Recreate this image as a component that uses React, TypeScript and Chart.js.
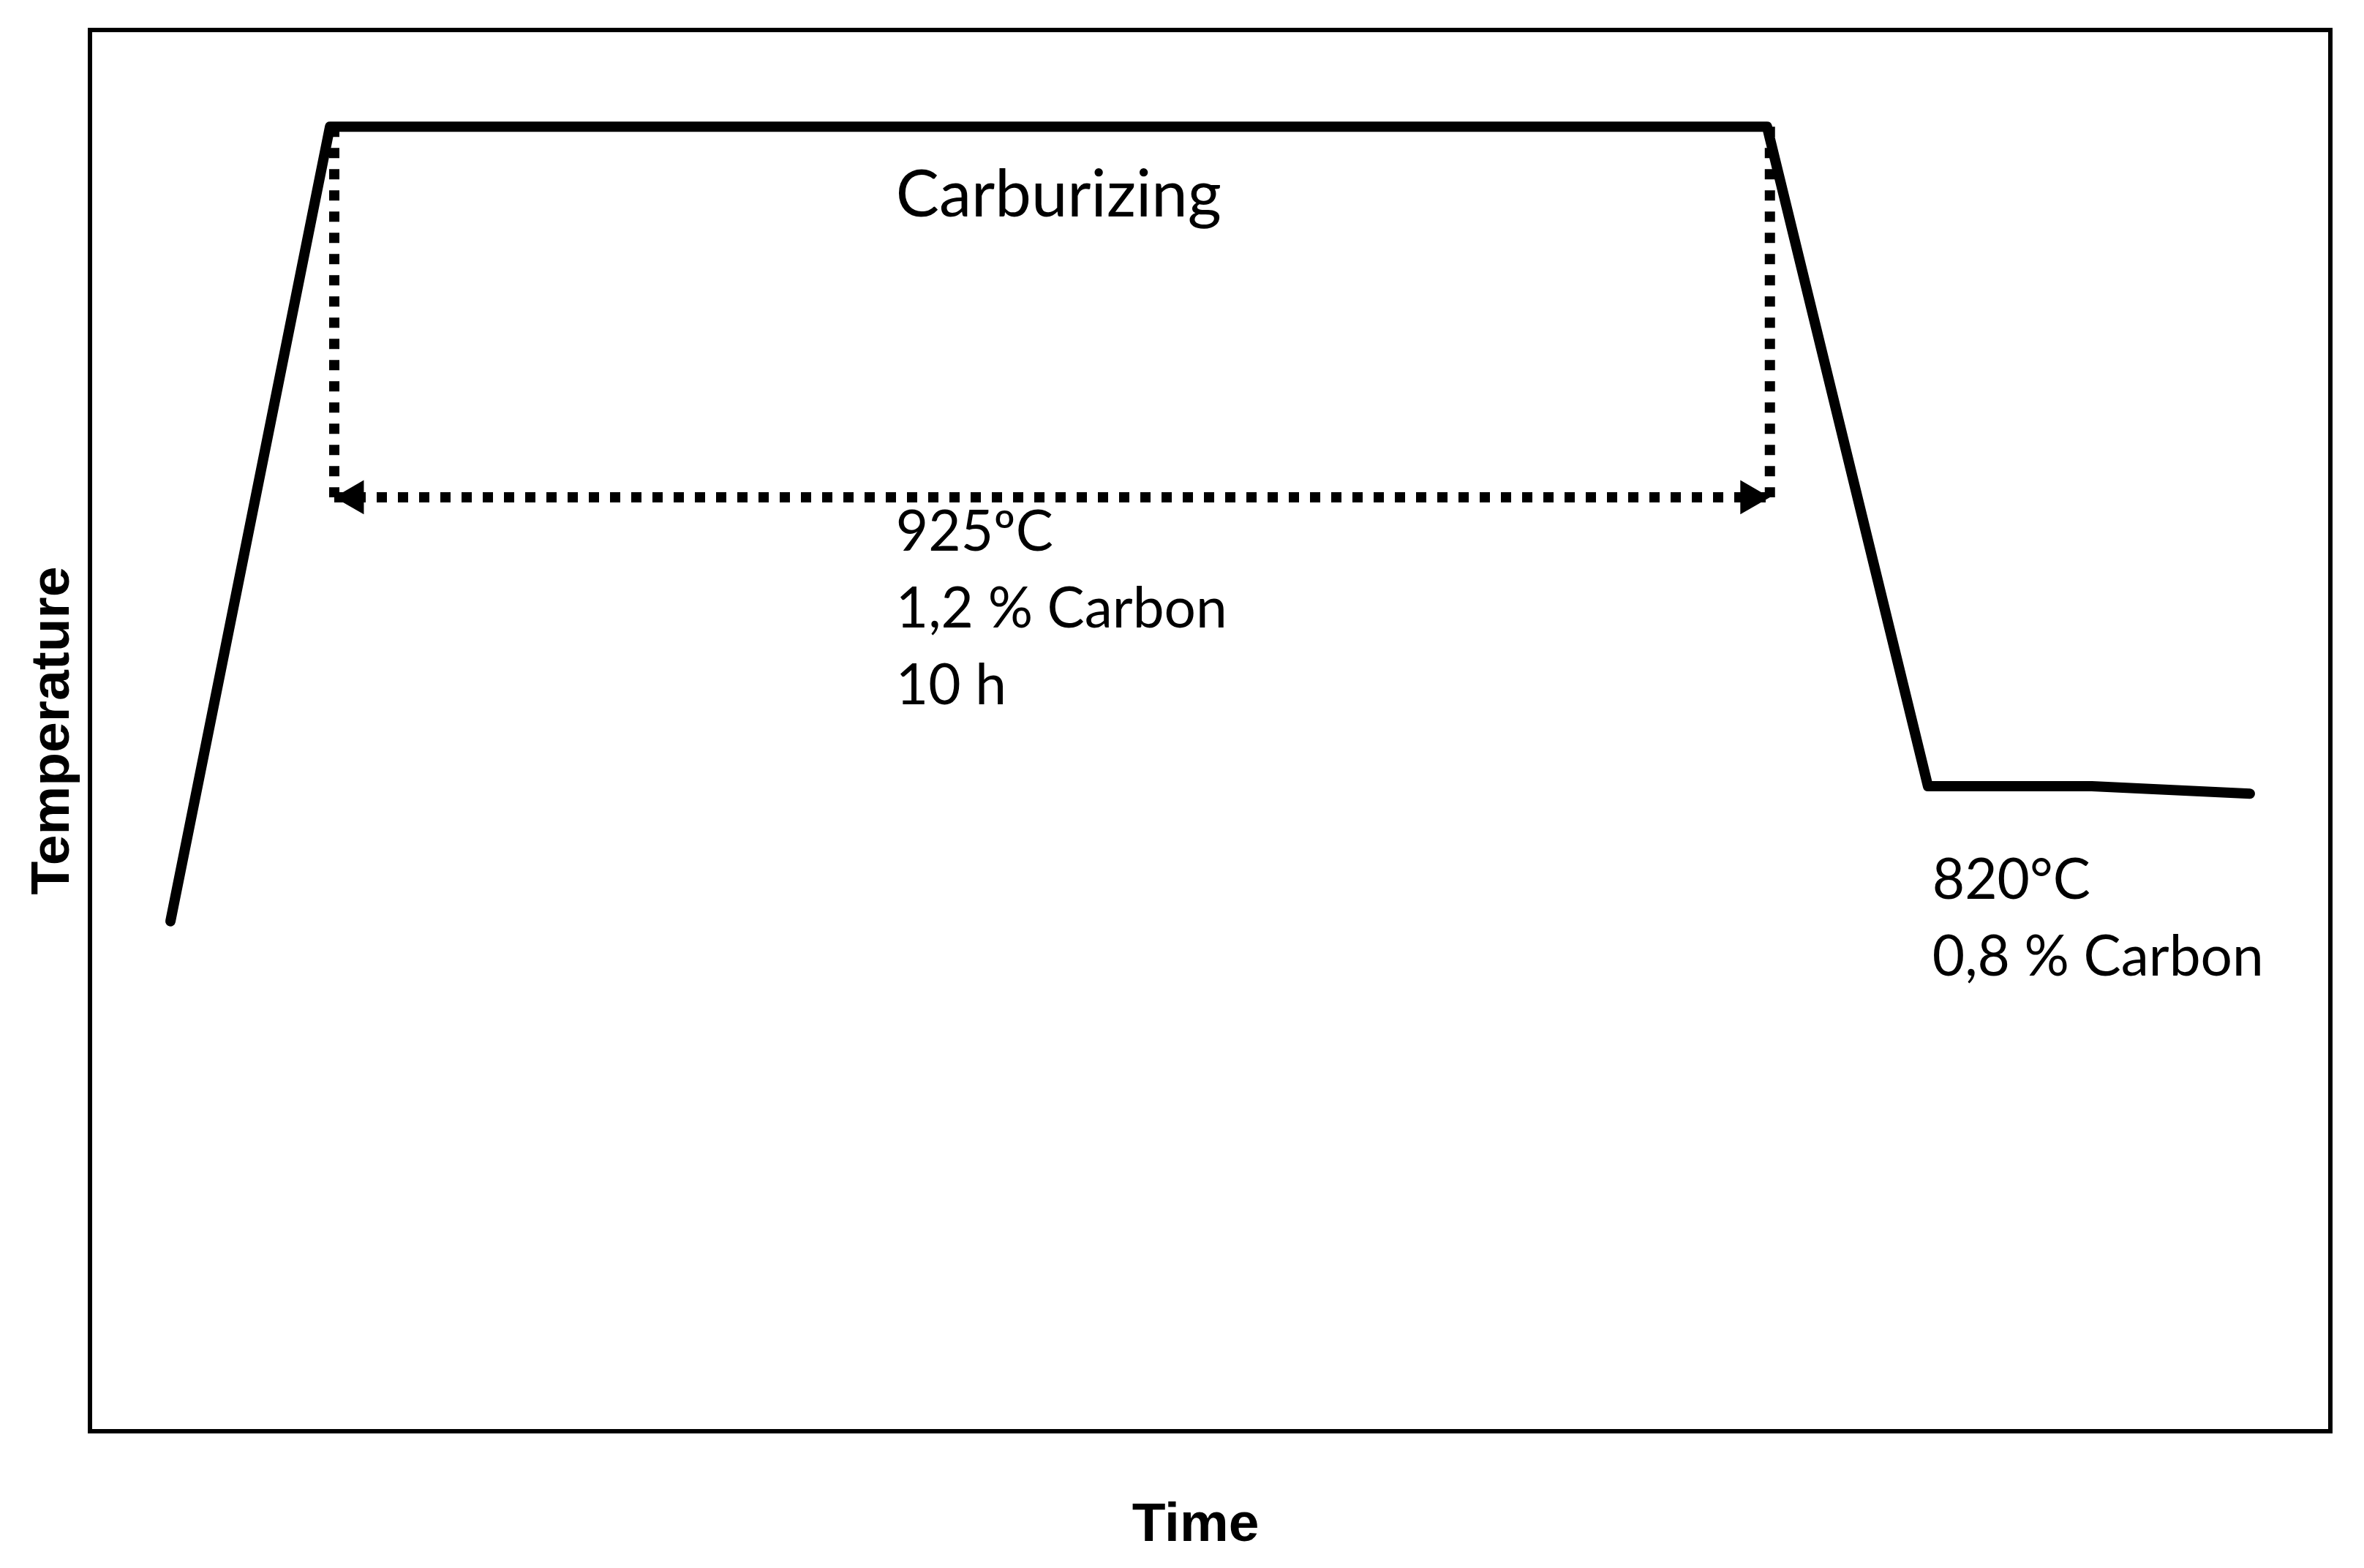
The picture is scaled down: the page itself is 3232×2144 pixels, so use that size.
import React, { useEffect, useRef } from "react";
import { Chart, registerables } from "chart.js";

Chart.register(...registerables);

const W = 3232;
const H = 2144;

// ---- Data (time in h, temperature in °C) ----
const profileTime = [0.56, 1.67, 11.67, 12.79, 13.93, 15.03];
const profileTemp = [798.5, 925, 925, 820, 820, 818.8];

// Carburizing dimension (dotted) lines
const dimStartTime = 1.7;
const dimEndTime = 11.69;
const dimTopTemp = 925;
const dimArrowTemp = 866;
const arrowHeadTime = [1.837, 11.553];
const arrowHeadRotation = [-90, 90];

// Texts
const xTitle = "Time";
const yTitle = "Temperature";
const stageLabel = "Carburizing";
const carburizingInfo = ["925ºC", "1,2 % Carbon", "10 h"];
const diffusionInfo = ["820°C", "0,8 % Carbon"];

// Axis ranges
const xRange = [0, 15.59];
const yRange = [717.3, 940.4];

const BODY_FONT = 'Lato, "Open Sans", sans-serif';
const TITLE_FONT = '"Liberation Sans", Arial, sans-serif';

const decorPlugin = {
  id: "decor",
  afterDatasetsDraw(chart: any) {
    const { ctx, chartArea: a, scales } = chart;
    const xs = scales.x;
    const ys = scales.y;
    ctx.save();
    // frame
    ctx.strokeStyle = "#000";
    ctx.lineWidth = 6;
    ctx.strokeRect(a.left, a.top, a.right - a.left, a.bottom - a.top);

    // axis titles
    ctx.fillStyle = "#000";
    ctx.font = `bold 75px ${TITLE_FONT}`;
    ctx.textAlign = "center";
    ctx.textBaseline = "alphabetic";
    ctx.fillText(xTitle, (a.left + a.right) / 2 - 20, a.bottom + 150);
    ctx.save();
    ctx.translate(a.left - 29, (a.top + a.bottom) / 2);
    ctx.rotate(-Math.PI / 2);
    ctx.fillText(yTitle, 0, 0);
    ctx.restore();

    // annotation texts
    const fit = (text: string, target: number) => {
      ctx.font = `100px ${BODY_FONT}`;
      const w = ctx.measureText(text).width;
      return (100 * target) / w;
    };
    const bodySize = fit("1,2 % Carbon", 453);
    const bigSize = fit(stageLabel, 445);
    ctx.textAlign = "left";

    ctx.font = `${bigSize}px ${BODY_FONT}`;
    ctx.fillText(stageLabel, xs.getPixelForValue(5.608), ys.getPixelForValue(910.7));

    ctx.font = `${bodySize}px ${BODY_FONT}`;
    const lh = 105;
    let bx = xs.getPixelForValue(5.608);
    let by = ys.getPixelForValue(857.5);
    carburizingInfo.forEach((t, i) => ctx.fillText(t, bx, by + i * lh));
    bx = xs.getPixelForValue(12.82);
    by = ys.getPixelForValue(802.1);
    diffusionInfo.forEach((t, i) => ctx.fillText(t, bx, by + i * lh));
    ctx.restore();
  },
};

export default function App() {
  const ref = useRef<HTMLCanvasElement | null>(null);

  useEffect(() => {
    document.body.style.margin = "0";
    const canvas = ref.current;
    if (!canvas) return;
    const dotted = {
      borderColor: "#000",
      borderWidth: 14,
      borderDash: [14, 15],
      borderCapStyle: "butt" as const,
      pointRadius: 0,
      fill: false,
      tension: 0,
    };
    const chart = new Chart(canvas, {
      type: "line",
      data: {
        datasets: [
          {
            label: "Profile",
            data: profileTime.map((t, i) => ({ x: t, y: profileTemp[i] })),
            borderColor: "#000",
            borderWidth: 14,
            borderCapStyle: "round",
            borderJoinStyle: "round",
            pointRadius: 0,
            fill: false,
            tension: 0,
          },
          {
            label: "start",
            data: [
              { x: dimStartTime, y: dimTopTemp },
              { x: dimStartTime, y: dimArrowTemp },
            ],
            ...dotted,
          },
          {
            label: "end",
            data: [
              { x: dimEndTime, y: dimTopTemp },
              { x: dimEndTime, y: dimArrowTemp },
            ],
            ...dotted,
          },
          {
            label: "span",
            data: [
              { x: dimStartTime, y: dimArrowTemp },
              { x: dimEndTime, y: dimArrowTemp },
            ],
            ...dotted,
          },
          {
            label: "arrows",
            data: arrowHeadTime.map((t) => ({ x: t, y: dimArrowTemp })),
            showLine: false,
            pointStyle: "triangle",
            pointRadius: 27,
            pointRotation: arrowHeadRotation,
            pointBackgroundColor: "#000",
            pointBorderColor: "#000",
            pointBorderWidth: 0,
          } as any,
        ],
      },
      options: {
        responsive: false,
        animation: false,
        devicePixelRatio: 1,
        layout: { padding: { left: 123, top: 41, right: 46, bottom: 187 } },
        plugins: { legend: { display: false }, tooltip: { enabled: false } },
        events: [],
        scales: {
          x: { type: "linear", min: xRange[0], max: xRange[1], display: false },
          y: { type: "linear", min: yRange[0], max: yRange[1], display: false },
        },
      },
      plugins: [decorPlugin],
    });
    return () => chart.destroy();
  }, []);

  return (
    <div style={{ width: W, height: H, background: "#fff" }}>
      <canvas ref={ref} width={W} height={H} style={{ display: "block", width: W, height: H }} />
    </div>
  );
}
